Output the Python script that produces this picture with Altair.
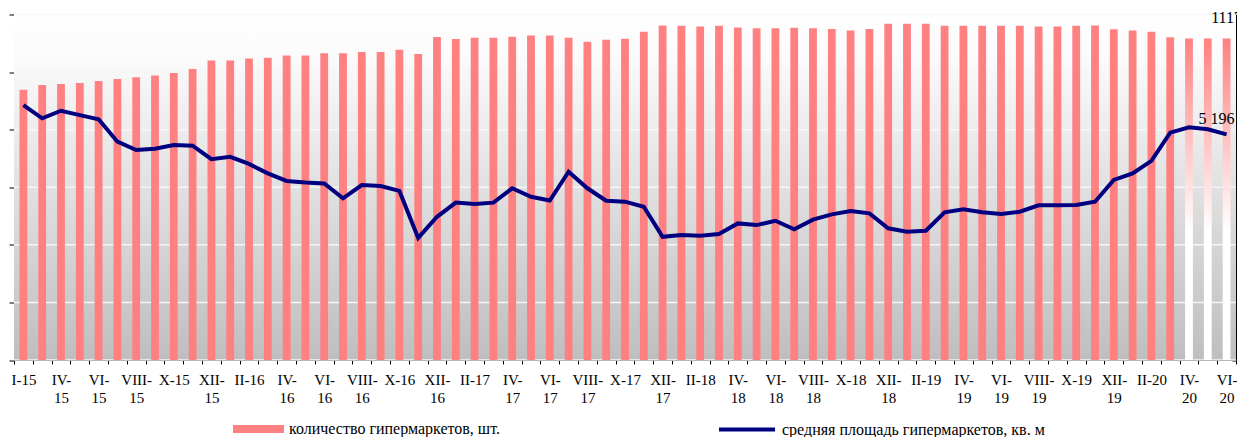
import json
import altair as alt
import pandas as pd

# ---- data ----
categories = [
    "I-15", "III-15", "IV-15", "V-15", "VI-15", "VII-15", "VIII-15", "IX-15", "X-15", "XI-15", "XII-15",
    "I-16", "II-16", "III-16", "IV-16", "V-16", "VI-16", "VII-16", "VIII-16", "IX-16", "X-16", "XI-16", "XII-16",
    "I-17", "II-17", "III-17", "IV-17", "V-17", "VI-17", "VII-17", "VIII-17", "IX-17", "X-17", "XI-17", "XII-17",
    "I-18", "II-18", "III-18", "IV-18", "V-18", "VI-18", "VII-18", "VIII-18", "IX-18", "X-18", "XI-18", "XII-18",
    "I-19", "II-19", "III-19", "IV-19", "V-19", "VI-19", "VII-19", "VIII-19", "IX-19", "X-19", "XI-19", "XII-19",
    "I-20", "II-20", "III-20", "IV-20", "V-20", "VI-20",
]

counts = [939, 955, 959, 962, 969, 976, 982, 988, 997, 1011,
          1040, 1040, 1047, 1050, 1058, 1058, 1065, 1065, 1070, 1070,
          1078, 1063, 1122, 1115, 1119, 1119, 1123, 1127, 1127, 1119,
          1105, 1112, 1116, 1140, 1162, 1161, 1158, 1161, 1155, 1152,
          1152, 1154, 1152, 1150, 1144, 1150, 1168, 1168, 1168, 1161,
          1161, 1161, 1161, 1161, 1158, 1158, 1161, 1162, 1149, 1144,
          1140, 1121, 1117, 1117, 1117]

areas = [5351, 5281, 5321, 5298, 5276, 5157, 5113, 5120, 5139, 5136,
         5064, 5077, 5039, 4989, 4949, 4941, 4936, 4857, 4927, 4922,
         4896, 4647, 4759, 4834, 4827, 4834, 4910, 4865, 4845, 4998,
         4910, 4844, 4839, 4812, 4653, 4662, 4659, 4668, 4724, 4715,
         4738, 4693, 4744, 4772, 4790, 4777, 4698, 4680, 4685, 4783,
         4799, 4783, 4774, 4786, 4820, 4820, 4821, 4839, 4954, 4989,
         5055, 5205, 5233, 5223, 5196]

count_ticks = [0, 200, 400, 600, 800, 1000, 1200]
area_domain = [4000, 5831]

bar_name = "количество гипермаркетов, шт."
line_name = "средняя площадь гипермаркетов, кв. м"

forecast_from = 62  # last three bars drawn with a fading fill
last_idx = len(categories) - 1

df = pd.DataFrame({"month": categories, "count": counts, "area": areas,
                   "idx": list(range(len(categories))),
                   "bar_series": [bar_name] * len(categories),
                   "line_series": [line_name] * len(categories)})
grid_df = pd.DataFrame({"count": count_ticks})

W, H = 1222, 345.5
FONT = "Liberation Serif"

labeled = categories[::2]
label_expr = (
    f"indexof({json.dumps(labeled)}, datum.value) < 0 ? '' : "
    "(indexof(['IV','VI','VIII','XII'], split(datum.value, '-')[0]) < 0 ? datum.value : "
    "[split(datum.value, '-')[0] + '-', split(datum.value, '-')[1]])"
)

x_enc = alt.X(
    "month:N", sort=categories,
    scale=alt.Scale(domain=categories, paddingInner=0, paddingOuter=0),
    axis=alt.Axis(title=None, tickBand="extent", labelExpr=label_expr, labelAngle=0,
                  labelOverlap=False, labelFont=FONT, labelFontSize=15, labelColor="black",
                  labelLineHeight=18, labelBaseline="top", labelPadding=8, tickSize=4,
                  tickColor="black", domainColor="black", grid=False),
)

y_count = alt.Y(
    "count:Q",
    scale=alt.Scale(domain=[0, 1200], nice=False, zero=True),
    axis=alt.Axis(title=None, orient="left", values=count_ticks, labels=False, tickSize=5,
                  tickColor="black", domainColor="black", grid=False),
)

area_vals = [area_domain[0] + i * (area_domain[1] - area_domain[0]) / 6 for i in range(7)]
y_area = alt.Y(
    "area:Q",
    scale=alt.Scale(domain=area_domain, nice=False, zero=False),
    axis=alt.Axis(title=None, orient="left", offset=-W, values=area_vals, labels=False,
                  tickSize=4, tickColor="black", domainColor="black", grid=False),
)

bg = alt.Chart(alt.Data(values=[{}])).mark_rect(
    fill=alt.Gradient(
        gradient="linear", x1=0, x2=0, y1=0, y2=1,
        stops=[alt.GradientStop(offset=0, color="#ffffff"),
               alt.GradientStop(offset=0.12, color="#fbfbfb"),
               alt.GradientStop(offset=1, color="#bebebe")],
    )
).encode(x=alt.value(0), x2=alt.value(W), y=alt.value(0), y2=alt.value(H))

grid = alt.Chart(grid_df).mark_rule(stroke="#f6f6f6", strokeWidth=1.5).encode(y=y_count)

bars = alt.Chart(df).transform_filter(f"datum.idx < {forecast_from}").mark_bar(size=7.8).encode(
    x=x_enc, y=y_count,
    fill=alt.Fill("bar_series:N", scale=alt.Scale(domain=[bar_name], range=["#ff8080"]),
                  legend=alt.Legend(title=None, orient="none", legendX=219, legendY=389,
                                    symbolType="M-1,-0.157H1V0.157H-1Z", symbolSize=2601,
                                    symbolStrokeWidth=0, symbolOpacity=1, labelFont=FONT,
                                    labelFontSize=16, labelColor="black", labelOffset=5,
                                    labelLimit=500, padding=0)),
)

gbars = alt.Chart(df).transform_filter(f"datum.idx >= {forecast_from}").mark_bar(
    size=7.8,
    fill=alt.Gradient(
        gradient="linear", x1=0, x2=0, y1=0, y2=1,
        stops=[alt.GradientStop(offset=0, color="#ff8080"),
               alt.GradientStop(offset=0.6, color="#ffffff"),
               alt.GradientStop(offset=1, color="#ffffff")],
    ),
).encode(x=x_enc, y=y_count)

t1 = alt.Chart(df).transform_filter(f"datum.idx == {last_idx}").mark_text(
    dy=-15, font=FONT, fontSize=16, align="center", baseline="alphabetic", color="black"
).encode(x=x_enc, y=y_count, text="count:Q")

line = alt.Chart(df).mark_line(strokeWidth=4).encode(
    x=x_enc, y=y_area,
    stroke=alt.Stroke("line_series:N", scale=alt.Scale(domain=[line_name], range=["#000080"]),
                      legend=alt.Legend(title=None, orient="none", legendX=703, legendY=385,
                                        symbolType="stroke", symbolSize=3136,
                                        symbolStrokeWidth=4, labelFont=FONT, labelFontSize=16,
                                        labelColor="black", labelOffset=5, labelLimit=500,
                                        padding=0)),
)

t2 = alt.Chart(df).transform_filter(f"datum.idx == {last_idx}").transform_calculate(
    lab="replace(format(datum.area, ','), ',', ' ')"
).mark_text(dx=-10, dy=-10, font=FONT, fontSize=16, align="center", baseline="alphabetic",
            color="black").encode(x=x_enc, y=y_area, text="lab:N")

left = alt.layer(bg, grid, bars, gbars, t1)
right = alt.layer(line, t2)

chart = alt.layer(left, right).resolve_scale(
    y="independent", fill="independent", stroke="independent"
).properties(
    width=W, height=H, autosize="none",
    padding={"left": 6, "top": 6.5, "right": 1, "bottom": 77},
).configure_view(stroke=None)

chart.save("out.html", embed_options={"renderer": "svg", "actions": False})
